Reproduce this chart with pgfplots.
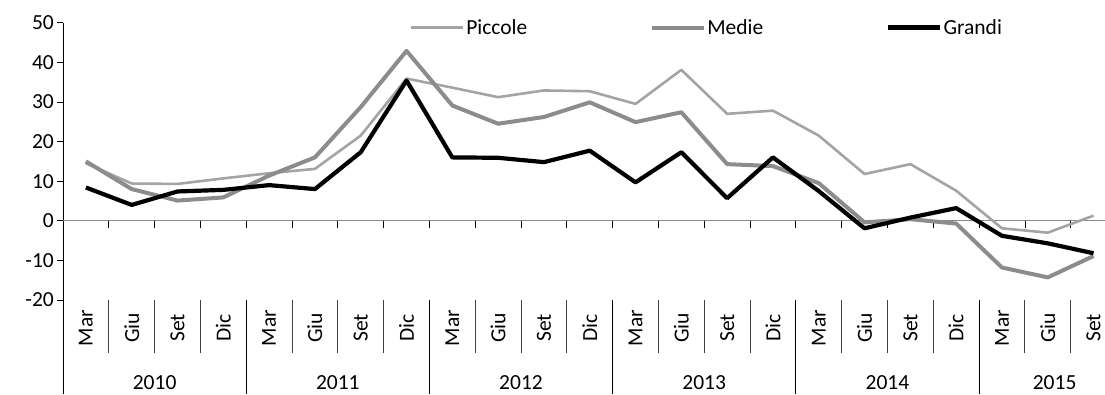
\documentclass[border=0pt]{standalone}
\usepackage{pgfplots}
\usepackage{pgfplotstable}
\pgfplotsset{compat=1.18}
\usepackage{fontspec}
\setmainfont{Carlito}

\definecolor{piccole}{HTML}{A4A4A4}
\definecolor{medie}{HTML}{8C8C8C}
\definecolor{grandi}{HTML}{000000}
\definecolor{assezero}{HTML}{8A8A8A}

% Saldo percentuale per classe dimensionale d'impresa, trimestri 2010-2015
\pgfplotstableread{
x  Piccole  Medie  Grandi
0   14.5    15.0    8.4
1    9.4     8.0    4.0
2    9.3     5.1    7.4
3   10.7     5.9    7.8
4   12.0    11.4    9.0
5   13.1    16.0    8.0
6   21.5    28.7   17.3
7   35.9    42.9   35.4
8   33.6    29.1   16.0
9   31.2    24.5   15.9
10  32.9    26.2   14.8
11  32.7    29.9   17.7
12  29.5    24.9    9.7
13  38.1    27.4   17.3
14  27.0    14.3    5.7
15  27.8    13.8   16.0
16  21.5     9.5    7.5
17  11.8    -0.4   -1.9
18  14.3     0.4    0.8
19   7.6    -0.7    3.2
20  -1.9   -11.8   -3.8
21  -3.0   -14.3   -5.7
22   1.3    -8.9   -8.2
}\dati

\begin{document}
\begin{tikzpicture}[font=\fontsize{21.5}{25}\selectfont]
\path[use as bounding box] (-63pt,-94pt) rectangle (1042pt,300pt);
\begin{axis}[
  scale only axis,
  width=1042pt, height=277.3pt,
  xmin=-0.5, xmax=22.25,
  ymin=-20, ymax=50,
  hide x axis,
  axis y line=left,
  y axis line style={-, black, line width=1pt},
  ytick={-20,-10,...,50},
  yticklabels={-20,-10,0,10,20,30,40,50},
  tick align=outside,
  major tick length=6pt,
  ytick style={black, line width=0.8pt},
  yticklabel style={anchor=east, inner sep=0pt, xshift=-3pt},
  clip mode=individual,
  legend columns=3,
  legend style={at={(0.333,0.9827)}, anchor=west, draw=none, fill=none,
    inner sep=0pt, nodes={inner sep=1.5pt},
    /tikz/every even column/.append style={column sep=121pt}},
  legend image code/.code={\draw[#1] (0pt,0pt) -- (52pt,0pt);},
]
% linea dello zero e tacche dei trimestri
\draw[assezero, line width=1.2pt] (axis cs:-0.5,0) -- (axis cs:22.25,0);
\pgfplotsinvokeforeach{0.5,1.5,...,21.5}{
  \draw[black, line width=0.7pt] (axis cs:#1,0) -- ++(0pt,-7pt);
}

\addplot[piccole, line width=2.6pt, line join=round] table[x=x, y=Piccole] {\dati};
\addlegendentry{Piccole}
\addplot[medie, line width=4pt, line join=round] table[x=x, y=Medie] {\dati};
\addlegendentry{Medie}
\addplot[grandi, line width=4.2pt, line join=round] table[x=x, y=Grandi] {\dati};
\addlegendentry{Grandi}

% asse delle categorie sotto il grafico
\draw[black, line width=1pt] (axis cs:-0.5,-20) -- ++(0pt,-94pt);
\pgfplotsinvokeforeach{0.5,1.5,2.5,4.5,5.5,6.5,8.5,9.5,10.5,12.5,13.5,14.5,16.5,17.5,18.5,20.5,21.5}{
  \draw[black!75, line width=0.8pt] (axis cs:#1,-20) -- ++(0pt,-53pt);
}
\pgfplotsinvokeforeach{3.5,7.5,11.5,15.5,19.5}{
  \draw[black, line width=1pt] (axis cs:#1,-20) -- ++(0pt,-94pt);
}
\pgfplotsinvokeforeach{0,4,8,12,16,20}{
  \node[rotate=90, anchor=center] at ([yshift=-28pt]axis cs:#1,-20) {Mar};
}
\pgfplotsinvokeforeach{1,5,9,13,17,21}{
  \node[rotate=90, anchor=center] at ([yshift=-28pt]axis cs:#1,-20) {Giu};
}
\pgfplotsinvokeforeach{2,6,10,14,18,22}{
  \node[rotate=90, anchor=center] at ([yshift=-28pt]axis cs:#1,-20) {Set};
}
\pgfplotsinvokeforeach{3,7,11,15,19}{
  \node[rotate=90, anchor=center] at ([yshift=-28pt]axis cs:#1,-20) {Dic};
}
\node at ([yshift=-83pt]axis cs:1.5,-20) {2010};
\node at ([yshift=-83pt]axis cs:5.5,-20) {2011};
\node at ([yshift=-83pt]axis cs:9.5,-20) {2012};
\node at ([yshift=-83pt]axis cs:13.5,-20) {2013};
\node at ([yshift=-83pt]axis cs:17.5,-20) {2014};
\node at ([yshift=-83pt]axis cs:21.15,-20) {2015};
\end{axis}
\end{tikzpicture}
\end{document}
